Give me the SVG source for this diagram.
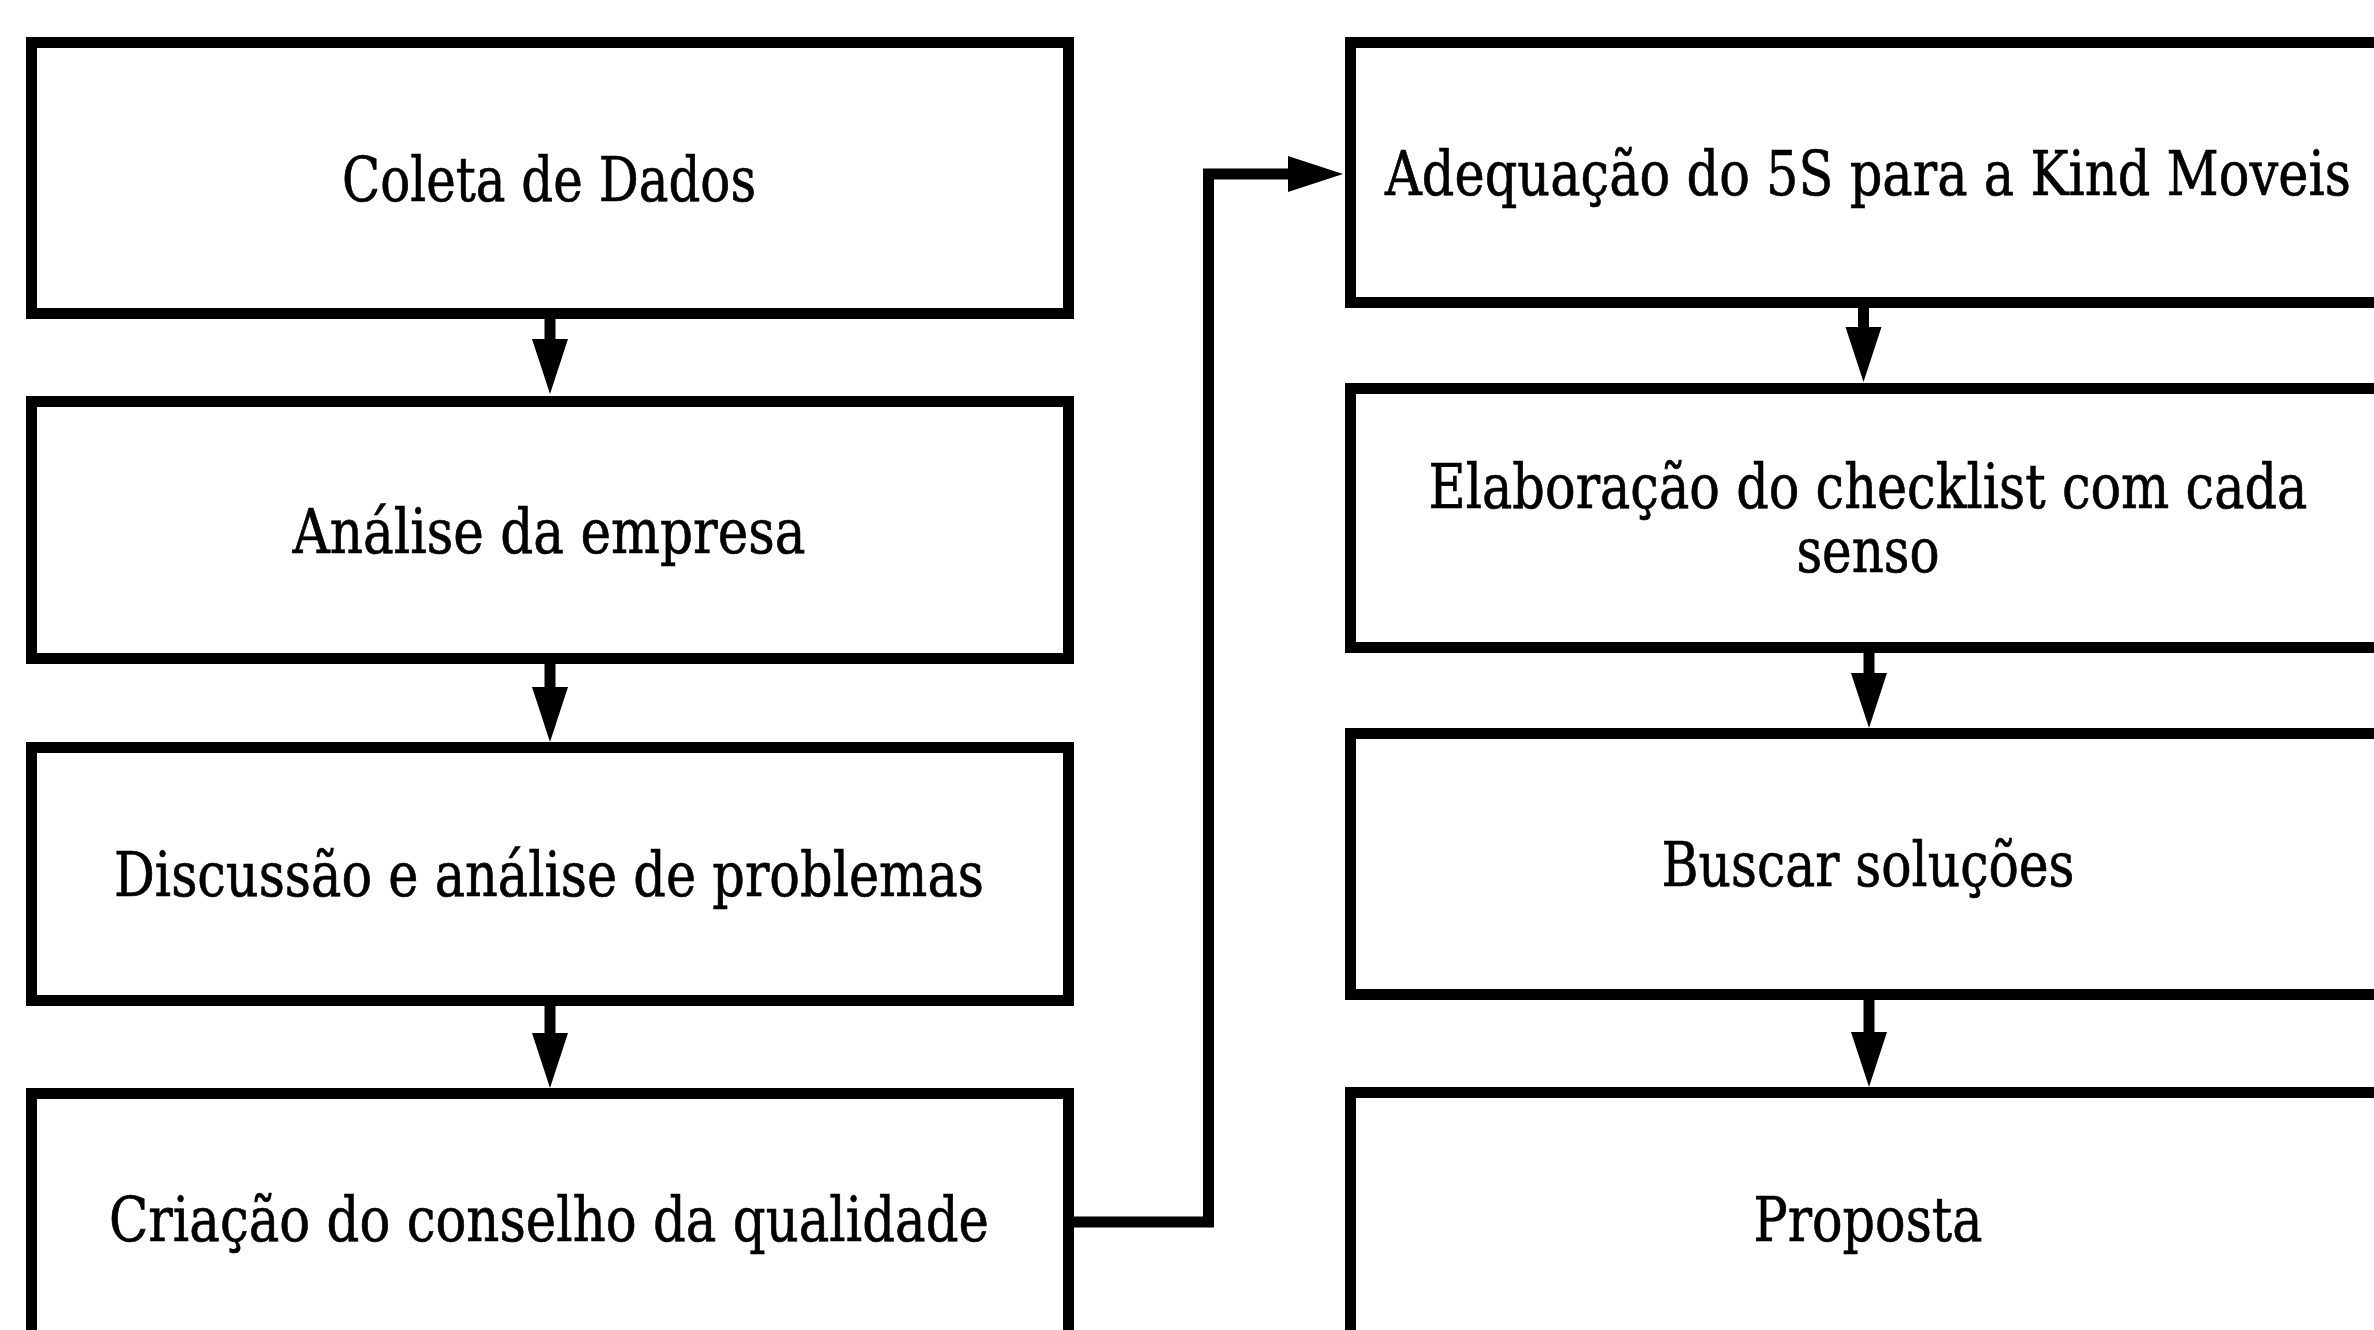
<svg xmlns="http://www.w3.org/2000/svg" width="2374" height="1330" viewBox="0 0 2374 1330">
<defs>
<marker id="ah" markerUnits="userSpaceOnUse" markerWidth="56" markerHeight="38" refX="0" refY="18" orient="auto" overflow="visible">
<path d="M0,0 L55,18 L0,36 Z" fill="#000"/>
</marker>
</defs>
<style>
.box{fill:#fff;stroke:#000;stroke-width:11}
.lbl{font-family:"DejaVu Serif","Liberation Serif",serif;font-size:62px;fill:#000;stroke:#000;stroke-width:0.7;text-anchor:middle}
.con{fill:none;stroke:#000;stroke-width:11;stroke-linejoin:miter;marker-end:url(#ah)}
</style>
<rect width="2374" height="1330" fill="#fff"/>
<g id="n1"><rect class="box" x="31.5" y="42.5" width="1037" height="271"/><text class="lbl" x="549" y="201" textLength="414" lengthAdjust="spacingAndGlyphs">Coleta de Dados</text></g>
<g id="n2"><rect class="box" x="31.5" y="401.5" width="1037" height="257"/><text class="lbl" x="549" y="553" textLength="513" lengthAdjust="spacingAndGlyphs">Análise da empresa</text></g>
<g id="n3"><rect class="box" x="31.5" y="747.5" width="1037" height="253"/><text class="lbl" x="549" y="896" textLength="870" lengthAdjust="spacingAndGlyphs">Discussão e análise de problemas</text></g>
<g id="n4"><rect class="box" x="31.5" y="1093.5" width="1037" height="257"/><text class="lbl" x="549" y="1241" textLength="880" lengthAdjust="spacingAndGlyphs">Criação do conselho da qualidade</text></g>
<g id="n5"><rect class="box" x="1350.5" y="42.5" width="1037" height="260"/><text class="lbl" x="1868" y="195" textLength="966" lengthAdjust="spacingAndGlyphs">Adequação do 5S para a Kind Moveis</text></g>
<g id="n6"><rect class="box" x="1350.5" y="388.5" width="1037" height="259"/><text class="lbl" x="1868" y="508" textLength="879" lengthAdjust="spacingAndGlyphs">Elaboração do checklist com cada</text><text class="lbl" x="1868" y="572" textLength="143" lengthAdjust="spacingAndGlyphs">senso</text></g>
<g id="n7"><rect class="box" x="1350.5" y="733.5" width="1037" height="261"/><text class="lbl" x="1868" y="886" textLength="413" lengthAdjust="spacingAndGlyphs">Buscar soluções</text></g>
<g id="n8"><rect class="box" x="1350.5" y="1092.5" width="1037" height="258"/><text class="lbl" x="1868" y="1241" textLength="229" lengthAdjust="spacingAndGlyphs">Proposta</text></g>
<g id="connectors">
<path class="con" d="M550,314 V339"/>
<path class="con" d="M550,659 V687"/>
<path class="con" d="M550,1001 V1033"/>
<path class="con" d="M1863.5,303 V327"/>
<path class="con" d="M1869,648 V673"/>
<path class="con" d="M1869,995 V1032"/>
<path class="con" d="M1069,1222 H1208.5 V174 H1288"/>
</g>
</svg>
